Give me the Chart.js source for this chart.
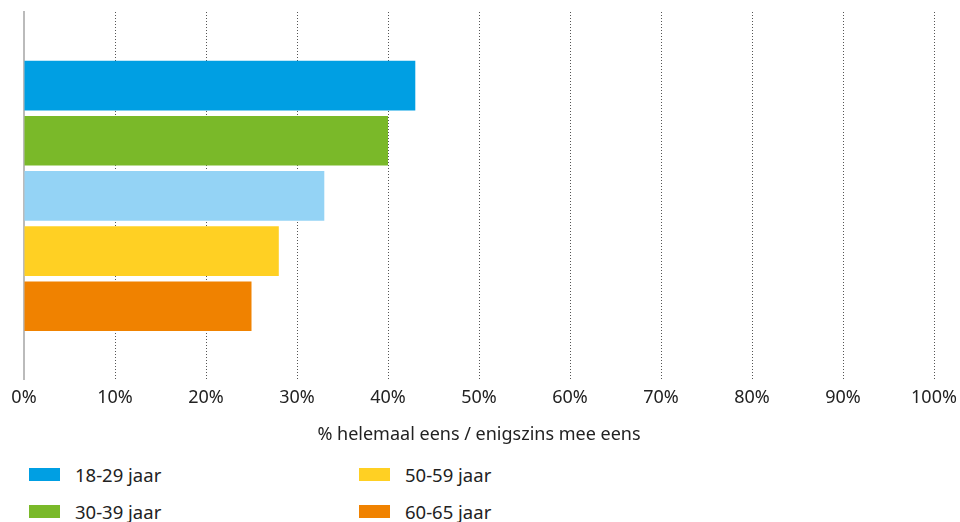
<!DOCTYPE html>
<html>
<head>
<meta charset="utf-8">
<script src="https://cdn.jsdelivr.net/npm/chart.js@4"></script>
<style>
  html, body { margin: 0; padding: 0; background: #fff; }
  body { width: 960px; height: 522px; overflow: hidden; font-family: "Noto Sans", "Open Sans", sans-serif; color: #222; }
  #wrap { position: relative; width: 960px; height: 452px; }
  #legend { position: absolute; left: 0; top: 462px; width: 960px; height: 60px; }
  .item { position: absolute; display: flex; align-items: center; font-size: 18.5px; color: #222; height: 24px; }
  .box { width: 31px; height: 13px; margin-right: 15px; }
</style>
</head>
<body>
<div id="wrap"><canvas id="c"></canvas></div>
<div id="legend"></div>
<script>
const seriesLabels = ['18-29 jaar', '30-39 jaar', '40-49 jaar', '50-59 jaar', '60-65 jaar'];
const seriesValues = [43, 40, 33, 28, 25];
const seriesColors = ['#009FE3', '#7AB929', '#94D3F5', '#FFD023', '#F08200'];
const categories = [''];
const xTicks = [0, 10, 20, 30, 40, 50, 60, 70, 80, 90, 100];
const axisTitle = '% helemaal eens / enigszins mee eens';
const legendShown = ['18-29 jaar', '30-39 jaar', '50-59 jaar', '60-65 jaar'];

const FONT = '"Noto Sans", "Open Sans", sans-serif';

const datasets = seriesLabels.map((lab, i) => ({
  label: lab,
  data: [seriesValues[i]],
  backgroundColor: seriesColors[i],
  borderWidth: 0,
  categoryPercentage: 0.75,
  barPercentage: 0.9
}));

new Chart(document.getElementById('c'), {
  type: 'bar',
  data: { labels: categories, datasets },
  options: {
    indexAxis: 'y',
    responsive: true,
    maintainAspectRatio: false,
    animation: false,
    layout: { padding: { left: 24, right: 26, top: 12, bottom: 6 } },
    plugins: { legend: { display: false }, tooltip: { enabled: false } },
    scales: {
      x: {
        min: 0, max: 100,
        afterBuildTicks: (axis) => { axis.ticks = xTicks.map(v => ({ value: v })); },
        afterFit: (axis) => { axis.paddingRight = 0; axis.paddingLeft = 0; },
        ticks: {
          callback: v => v + '%',
          font: { family: FONT, size: 18 },
          color: '#222',
          padding: 7,
          maxRotation: 0
        },
        grid: {
          drawTicks: false,
          color: ctx => ctx.tick && ctx.tick.value === 0 ? 'rgba(0,0,0,0)' : '#555',
          lineWidth: 1
        },
        border: { display: false, dash: [1, 2] },
        title: {
          display: true,
          text: axisTitle,
          font: { family: FONT, size: 18 },
          color: '#222',
          padding: { top: 9, bottom: 0 }
        }
      },
      y: {
        ticks: { display: false },
        grid: { display: false, drawTicks: false },
        border: { display: true, color: '#BBBBBB', width: 2 }
      }
    }
  }
});

const legend = document.getElementById('legend');
const positions = [[29, 0], [29, 37], [359, 0], [359, 37]];
legendShown.forEach((lab, i) => {
  const idx = seriesLabels.indexOf(lab);
  const d = document.createElement('div');
  d.className = 'item';
  d.style.left = positions[i][0] + 'px';
  d.style.top = positions[i][1] + 'px';
  d.innerHTML = '<span class="box" style="background:' + seriesColors[idx] + '"></span>' + lab;
  legend.appendChild(d);
});
</script>
</body>
</html>
